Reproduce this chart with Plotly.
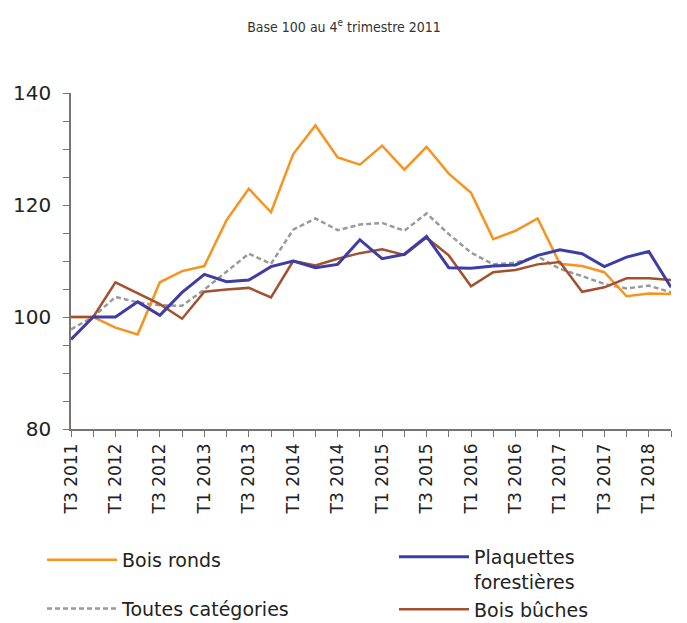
import plotly.graph_objects as go

quarters = ["T3 2011", "T4 2011",
            "T1 2012", "T2 2012", "T3 2012", "T4 2012",
            "T1 2013", "T2 2013", "T3 2013", "T4 2013",
            "T1 2014", "T2 2014", "T3 2014", "T4 2014",
            "T1 2015", "T2 2015", "T3 2015", "T4 2015",
            "T1 2016", "T2 2016", "T3 2016", "T4 2016",
            "T1 2017", "T2 2017", "T3 2017", "T4 2017",
            "T1 2018", "T2 2018"]

bois_ronds = [100, 100, 98.1, 96.9, 106.2, 108.2, 109.1, 117.3, 122.9, 118.7,
              129.1, 134.2, 128.5, 127.2, 130.6, 126.3, 130.4, 125.6, 122.2, 113.9,
              115.4, 117.6, 109.5, 109.1, 108.0, 103.7, 104.2, 104.1]
plaquettes = [96.0, 100, 100, 102.7, 100.3, 104.4, 107.6, 106.3, 106.6, 109.0,
              110.0, 108.8, 109.4, 113.8, 110.4, 111.2, 114.4, 108.8, 108.7, 109.1,
              109.3, 111.0, 112.0, 111.3, 109.0, 110.7, 111.7, 105.3]
toutes = [97.8, 100, 103.6, 102.6, 102.1, 102.0, 104.9, 108.1, 111.3, 109.5,
          115.6, 117.6, 115.5, 116.5, 116.8, 115.4, 118.5, 114.8, 111.5, 109.4,
          109.7, 110.8, 108.6, 107.3, 105.9, 105.1, 105.6, 104.4]
bois_buches = [100, 100, 106.2, 104.2, 102.3, 99.7, 104.5, 104.9, 105.2, 103.5,
               110.0, 109.2, 110.4, 111.4, 112.1, 111.1, 114.2, 111.0, 105.5, 108.0,
               108.4, 109.4, 109.8, 104.5, 105.3, 106.9, 106.9, 106.6]

x_idx = list(range(len(quarters)))
tick_pos = x_idx[::2]
tick_text = quarters[::2]

AXIS = "#7d7070"
FONT = "DejaVu Sans"
W, H = 687, 623
OFF = 8  # page body margin

fig = go.Figure()
fig.add_trace(go.Scatter(x=x_idx, y=toutes, mode="lines", name="Toutes catégories",
                         line=dict(color="#9a9a9a", width=2.5, dash="5px,3px"),
                         legend="legend", legendgroup="g2", legendrank=2))
fig.add_trace(go.Scatter(x=x_idx, y=bois_ronds, mode="lines", name="Bois ronds",
                         line=dict(color="#F7931E", width=2.5),
                         legend="legend", legendgroup="g1", legendrank=1))
fig.add_trace(go.Scatter(x=x_idx, y=bois_buches, mode="lines", name="Bois bûches",
                         line=dict(color="#A2502E", width=2.5),
                         legend="legend2", legendrank=2))
fig.add_trace(go.Scatter(x=x_idx, y=plaquettes, mode="lines", name="Plaquettes<br>forestières",
                         line=dict(color="#3D3DA6", width=3),
                         legend="legend2", legendrank=1))

legend_common = dict(orientation="v", yanchor="top", xanchor="left", itemwidth=70,
                     xref="container", yref="container",
                     font=dict(family=FONT, size=19, color="#222"),
                     bgcolor="rgba(0,0,0,0)", borderwidth=0)

fig.update_layout(
    width=W, height=H,
    margin=dict(l=71 - OFF, r=W - (71 - OFF) - 600, t=93 - OFF, b=H - (93 - OFF) - 336, autoexpand=False),
    paper_bgcolor="white", plot_bgcolor="white",
    title=dict(text="Base 100 au 4<sup>e</sup> trimestre 2011", x=(344 - OFF) / W, xref="container",
               y=1 - 19 / H, yref="container", yanchor="middle", xanchor="center",
               font=dict(family="DejaVu Sans Condensed, DejaVu Sans, sans-serif", size=14, color="#333")),
    font=dict(family=FONT, color="#222"),
    showlegend=True,
    legend=dict(x=34 / W, y=1 - 533 / H, tracegroupgap=21, traceorder="grouped", **legend_common),
    legend2=dict(x=386 / W, y=1 - 530 / H, tracegroupgap=0, traceorder="normal", valign="top",
                 **legend_common),
)
fig.update_xaxes(range=[0, 27], tickmode="array", tickvals=tick_pos, ticktext=tick_text,
                 tickangle=-90, tickfont=dict(family=FONT, size=17, color="#222"),
                 showline=True, linecolor=AXIS, linewidth=1.5, showgrid=False, zeroline=False,
                 ticks="outside", ticklen=6, tickcolor=AXIS, tickwidth=1.2,
                 minor=dict(tickmode="linear", tick0=0, dtick=1, ticks="outside", ticklen=6,
                            tickcolor=AXIS, tickwidth=1.2, showgrid=False))
fig.update_yaxes(range=[80, 140], tickmode="array", tickvals=[80, 100, 120, 140],
                 tickfont=dict(family=FONT, size=20, color="#222"),
                 showline=True, linecolor=AXIS, linewidth=1.5, showgrid=False, zeroline=False,
                 ticks="outside", ticklen=6, tickcolor=AXIS, tickwidth=1.2, ticklabelstandoff=8,
                 minor=dict(tickmode="linear", tick0=80, dtick=5, ticks="outside", ticklen=6,
                            tickcolor=AXIS, tickwidth=1.2, showgrid=False))

fig.write_html("out.html")
